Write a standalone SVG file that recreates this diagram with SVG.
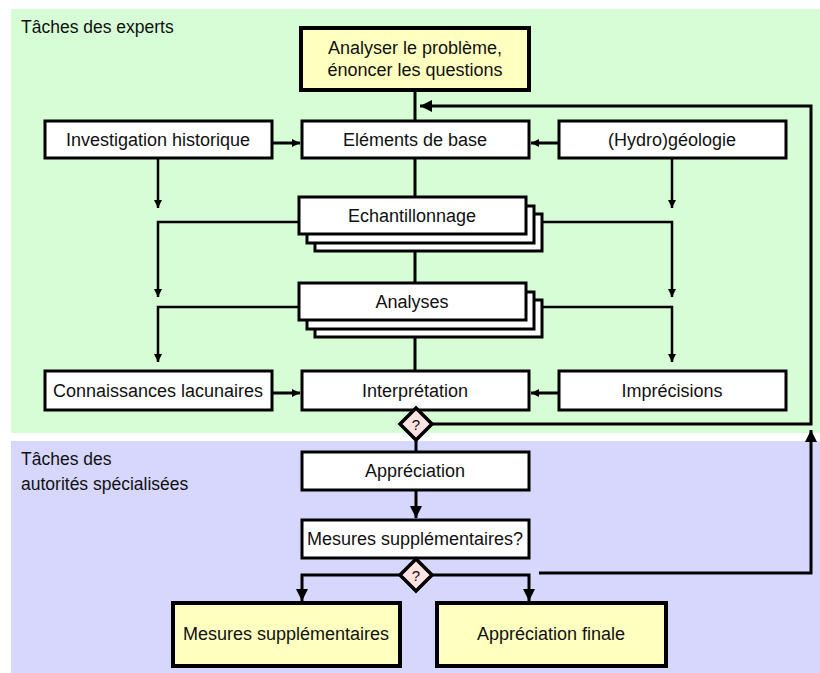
<svg xmlns="http://www.w3.org/2000/svg" width="820" height="673" viewBox="0 0 820 673">
<style>
text{font-family:"Liberation Sans",Arial,sans-serif;font-size:18px;fill:#111;}
.lab{font-size:17.5px;}
.c{text-anchor:middle;}
.box{fill:#fff;stroke:#000;stroke-width:3;}
.ybox{fill:#FFFFC0;stroke:#000;stroke-width:4;}
.dia{fill:#FDE2E2;stroke:#000;stroke-width:3.5;}
.ln{fill:none;stroke:#000;stroke-width:3;}
.thin{fill:none;stroke:#000;stroke-width:2.5;}
.q{font-size:15px;}
</style>
<defs>
<marker id="as" markerUnits="userSpaceOnUse" markerWidth="10" markerHeight="10" refX="8" refY="4" orient="auto"><path d="M0,0L8,4L0,8z" fill="#000"/></marker>
<marker id="al" markerUnits="userSpaceOnUse" markerWidth="14" markerHeight="14" refX="12" refY="6" orient="auto"><path d="M0,0L12,6L0,12z" fill="#000"/></marker>
</defs>
<rect x="11" y="9" width="809" height="424" fill="#D6FDD6"/>
<rect x="11" y="441" width="809" height="232" fill="#D7D7FD"/>
<text class="lab" x="21" y="33">Tâches des experts</text>
<text class="lab" x="21" y="465">Tâches des</text>
<text class="lab" x="21" y="490">autorités spécialisées</text>
<g id="connectors">
<path class="ln" d="M415,90V121"/>
<path class="ln" d="M415,158V197"/>
<path class="ln" d="M415,252V283"/>
<path class="ln" d="M415,337V371"/>
<path class="ln" d="M416,440V452"/>
<path class="ln" d="M416,410V408"/>
<path class="ln" d="M272,143H300" marker-end="url(#as)"/>
<path class="ln" d="M559,143H531" marker-end="url(#as)"/>
<path class="ln" d="M272,393H300" marker-end="url(#as)"/>
<path class="ln" d="M559,393H531" marker-end="url(#as)"/>
<path class="thin" d="M158,158V208" marker-end="url(#as)"/>
<path class="thin" d="M299,222H158V297" marker-end="url(#as)"/>
<path class="thin" d="M299,307H158V362" marker-end="url(#as)"/>
<path class="thin" d="M672,158V208" marker-end="url(#as)"/>
<path class="thin" d="M542,222H672V297" marker-end="url(#as)"/>
<path class="thin" d="M542,307H672V362" marker-end="url(#as)"/>
<path class="ln" d="M432,424H811V106H420" marker-end="url(#al)"/>
<path class="ln" d="M416,490V518" marker-end="url(#al)"/>
<path class="ln" d="M400,575H302V601" marker-end="url(#al)"/>
<path class="ln" d="M432,575H529V601" marker-end="url(#al)"/>
<path class="ln" d="M539,573H811V430" marker-end="url(#al)"/>
</g>
<g id="analyser">
<rect class="ybox" x="301" y="28" width="228" height="62"/>
<text class="c" x="415" y="54">Analyser le problème,</text>
<text class="c" x="415" y="76">énoncer les questions</text>
</g>
<g id="investigation">
<rect class="box" x="45" y="121" width="227" height="37"/>
<text class="c" x="158" y="146">Investigation historique</text>
</g>
<g id="elements">
<rect class="box" x="302" y="121" width="227" height="37"/>
<text class="c" x="415" y="146">Eléments de base</text>
</g>
<g id="hydro">
<rect class="box" x="559" y="121" width="227" height="37"/>
<text class="c" x="672" y="146">(Hydro)géologie</text>
</g>
<g id="echantillonnage">
<rect class="box" x="315" y="214" width="227" height="37"/>
<rect class="box" x="307" y="206" width="227" height="37"/>
<rect class="box" x="299" y="197" width="227" height="37"/>
<text class="c" x="412" y="222">Echantillonnage</text>
</g>
<g id="analyses">
<rect class="box" x="315" y="300" width="227" height="37"/>
<rect class="box" x="307" y="292" width="227" height="37"/>
<rect class="box" x="299" y="283" width="227" height="37"/>
<text class="c" x="412" y="308">Analyses</text>
</g>
<g id="connaissances">
<rect class="box" x="45" y="371" width="227" height="39"/>
<text class="c" x="158" y="397">Connaissances lacunaires</text>
</g>
<g id="interpretation">
<rect class="box" x="302" y="371" width="227" height="39"/>
<text class="c" x="415" y="397">Interprétation</text>
</g>
<g id="imprecisions">
<rect class="box" x="559" y="371" width="227" height="39"/>
<text class="c" x="672" y="397">Imprécisions</text>
</g>
<g id="decision1">
<path class="dia" d="M416,408L432,424L416,440L400,424z"/>
<text class="c q" x="416" y="430">?</text>
</g>
<g id="appreciation">
<rect class="box" x="302" y="452" width="227" height="38"/>
<text class="c" x="415" y="477">Appréciation</text>
</g>
<g id="mesures-q">
<rect class="box" x="302" y="520" width="227" height="38"/>
<text class="c" x="415" y="545">Mesures supplémentaires?</text>
</g>
<g id="decision2">
<path class="dia" d="M416,559L432,575L416,591L400,575z"/>
<text class="c q" x="416" y="581">?</text>
</g>
<g id="mesures">
<rect class="ybox" x="173" y="603" width="227" height="63"/>
<text class="c" x="286" y="640">Mesures supplémentaires</text>
</g>
<g id="finale">
<rect class="ybox" x="437" y="603" width="229" height="63"/>
<text class="c" x="551" y="640">Appréciation finale</text>
</g>
</svg>
